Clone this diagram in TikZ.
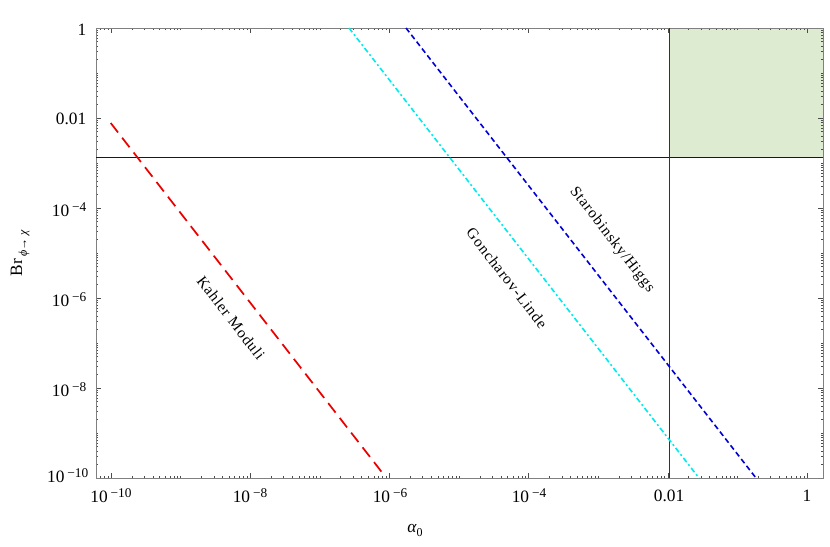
\documentclass[tikz,border=0pt]{standalone}
\usepackage{fontspec}
\setmainfont{Liberation Serif}
\definecolor{cyanline}{RGB}{0,235,235}
\definecolor{blueline}{RGB}{0,0,215}
\definecolor{redline}{RGB}{235,0,0}
\begin{document}
\begin{tikzpicture}[x=0.75pt,y=-0.75pt,
  frame/.style={draw=black!50,line width=0.6pt},
  tk/.style={draw=black!70,line width=0.45pt},
  curvelab/.style={font=\fontsize{11.5}{13}\selectfont\addfontfeature{LetterSpace=6},rotate=-52.3},
  lab/.style={font=\fontsize{13}{15}\selectfont}]
\useasboundingbox (0,0) rectangle (830,546);
\newcommand\tenp[1]{10\,\raisebox{0.6ex}{\fontsize{10}{11}\selectfont −#1}}
\fill[fill={rgb,255:red,221;green,236;blue,208}] (669,28) rectangle (823,157);
% ticks
\foreach \d in {-11,...,0}{
  \foreach \k in {1,...,9}{
    \pgfmathsetmacro{\p}{\d+log10(\k)}
    \pgfmathsetmacro{\px}{807+69.6*\p}
    \pgfmathsetmacro{\py}{28-45*\p}
    \pgfmathsetmacro{\len}{(\k==1)*(mod(abs(\d),2)==0)*3+2.2}
    \pgfmathparse{(\px>97)&&(\px<822)?1:0}
    \ifnum\pgfmathresult=1
      \draw[tk] (\px,478) -- ++(0,-\len);
      \draw[tk] (\px,28) -- ++(0,\len);
    \fi
    \pgfmathparse{(\py>29)&&(\py<478)?1:0}
    \ifnum\pgfmathresult=1
      \draw[tk] (96,\py) -- ++(\len,0);
      \draw[tk] (823,\py) -- ++(-\len,0);
    \fi
  }
}
\draw[frame] (96,28) rectangle (823,478);
% boundary lines
\draw[black!90,line width=0.7pt] (96,157) -- (823,157);
\draw[black!80,line width=0.7pt] (669,28) -- (669,478);
% curves
\draw[redline,line width=1.3pt,dash pattern=on 9pt off 5pt] (110.7,123) -- (381.7,472);
\draw[cyanline,line width=1.2pt,dash pattern=on 4pt off 2pt on 1.5pt off 2pt] (349,28) -- (699,478);
\draw[blueline,line width=1.2pt,dash pattern=on 4pt off 2.5pt] (406,28) -- (756,478);
% curve labels
\node[curvelab] (km) at (231,318) {Kahler Moduli};
\node[curvelab] (gl) at (507,278) {Goncharov-Linde};
\node[curvelab] (sh) at (612,240) {Starobinsky/Higgs};
% tick labels
\node[lab,anchor=east] (y0) at (91,30) {1};
\node[lab,anchor=east] (y2) at (91,119) {0.01};
\node[lab,anchor=east] (y4) at (91,210) {\tenp{4}};
\node[lab,anchor=east] (y6) at (91,300) {\tenp{6}};
\node[lab,anchor=east] (y8) at (91,390) {\tenp{8}};
\node[lab,anchor=east] (y10) at (93,476) {\tenp{10}};
\node[lab] (x10) at (111,496) {\tenp{10}};
\node[lab] (x8) at (250,496) {\tenp{8}};
\node[lab] (x6) at (390,496) {\tenp{6}};
\node[lab] (x4) at (529,496) {\tenp{4}};
\node[lab] (x2) at (669,496) {0.01};
\node[lab] (x0) at (807,496) {1};
\node[lab] (xl) at (415,530) {\textit{α}\raisebox{-0.5ex}{\fontsize{9}{10}\selectfont 0}};
\node[lab,rotate=90] (yl) at (20,253) {Br\raisebox{-0.6ex}{\fontsize{9}{10}\selectfont\,\textit{ϕ}→ \textit{χ}}};
\end{tikzpicture}
\end{document}
